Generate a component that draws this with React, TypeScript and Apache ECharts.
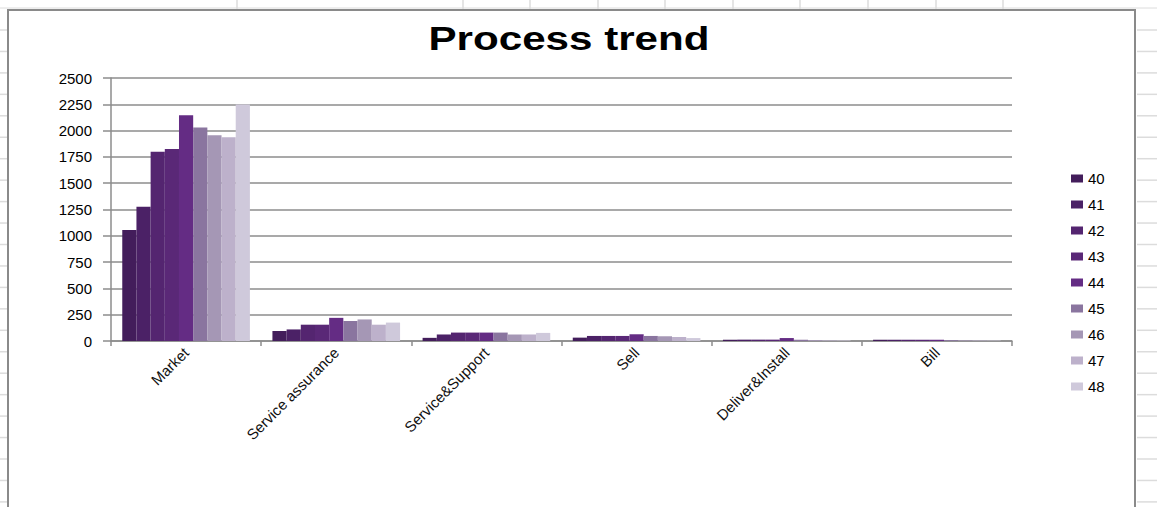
import React, { useEffect, useRef } from "react";
import * as echarts from "echarts";

const categories = ["Market", "Service assurance", "Service&Support", "Sell", "Deliver&Install", "Bill"];
const seriesNames = ["40", "41", "42", "43", "44", "45", "46", "47", "48"];
const colors = ["#431d5b", "#4b2166", "#542570", "#5a2877", "#642c84", "#8a759f", "#a597b5", "#bdb1cb", "#cfc9db"];

// values per week, in category order
const w40 = [1055, 95, 30, 32, 12, 12];
const w41 = [1277, 110, 62, 48, 13, 12];
const w42 = [1800, 155, 80, 48, 13, 12];
const w43 = [1825, 155, 80, 48, 13, 12];
const w44 = [2145, 220, 80, 64, 28, 12];
const w45 = [2030, 190, 80, 48, 12, 8];
const w46 = [1955, 205, 62, 45, 8, 6];
const w47 = [1936, 155, 62, 38, 6, 5];
const w48 = [2248, 175, 77, 28, 5, 4];
const weeks = [w40, w41, w42, w43, w44, w45, w46, w47, w48];

const yTicks = { min: 0, max: 2500, interval: 250 };

export default function App() {
  const ref = useRef<HTMLDivElement>(null);
  useEffect(() => {
    const chart = echarts.init(ref.current!, null, { renderer: "svg" });
    const grey = "#8c8c8c";
    const cell = "#dcdcdc";
    const font = "Arial, 'Liberation Sans', sans-serif";
    const deco: any[] = [];
    // spreadsheet cell lines behind the chart frame
    deco.push({ type: "line", shape: { x1: 0, y1: 8, x2: 1157, y2: 8 }, style: { stroke: cell, lineWidth: 1 }, z: -10 });
    [237, 463, 530, 598, 665, 733, 800, 868, 936, 1003].forEach((x) =>
      deco.push({ type: "line", shape: { x1: x, y1: 0, x2: x, y2: 10 }, style: { stroke: cell, lineWidth: 1.5 }, z: -10 })
    );
    for (let y = 30; y < 507; y += 21.45) {
      deco.push({ type: "line", shape: { x1: 1137, y1: y, x2: 1157, y2: y }, style: { stroke: cell, lineWidth: 1.5 }, z: -10 });
      deco.push({ type: "line", shape: { x1: 0, y1: y, x2: 7, y2: y }, style: { stroke: cell, lineWidth: 1.5 }, z: -10 });
    }
    deco.push({
      type: "rect",
      shape: { x: 8, y: 10, width: 1127, height: 520 },
      style: { fill: "#ffffff", stroke: "#8a8a8a", lineWidth: 2 },
      z: -5,
    });
    deco.push({
      type: "text",
      x: 569,
      y: 38,
      scaleX: 1.24,
      style: {
        text: "Process trend",
        font: "bold 34px Arial, 'Liberation Sans', sans-serif",
        fill: "#000",
        align: "center",
        verticalAlign: "middle",
      },
      z: 10,
    });

    chart.setOption({
      animation: false,
      backgroundColor: "#ffffff",
      graphic: deco,
      grid: { left: 111, right: 145, top: 78, bottom: 166 },
      legend: {
        orient: "vertical",
        left: 1066,
        top: 165,
        itemWidth: 12,
        itemHeight: 8,
        itemGap: 9,
        icon: "rect",
        data: seriesNames,
        textStyle: { fontFamily: font, fontSize: 15, lineHeight: 17, color: "#000" },
      },
      xAxis: {
        type: "category",
        data: categories,
        axisLine: { lineStyle: { color: grey, width: 1.5 } },
        axisTick: { show: true, length: 5, lineStyle: { color: grey, width: 1.5 } },
        axisLabel: {
          rotate: 45,
          interval: 0,
          margin: 9,
          fontFamily: font,
          fontSize: 15,
          color: "#111",
        },
      },
      yAxis: {
        type: "value",
        min: yTicks.min,
        max: yTicks.max,
        interval: yTicks.interval,
        axisLine: { show: true, lineStyle: { color: grey, width: 1.5 } },
        axisTick: { show: true, length: 8, lineStyle: { color: grey, width: 1.5 } },
        splitLine: { lineStyle: { color: grey, width: 1.5 } },
        axisLabel: {
          margin: 19,
          fontFamily: font,
          fontSize: 15,
          color: "#000",
          formatter: (v: number) => String(v),
        },
      },
      series: seriesNames.map((name, i) => ({
        name,
        type: "bar",
        data: weeks[i],
        barGap: "0%",
        barCategoryGap: "15%",
        itemStyle: { color: colors[i] },
      })),
    });
    return () => chart.dispose();
  }, []);
  return <div ref={ref} style={{ position: "fixed", left: 0, top: 0, width: 1157, height: 507 }} />;
}
